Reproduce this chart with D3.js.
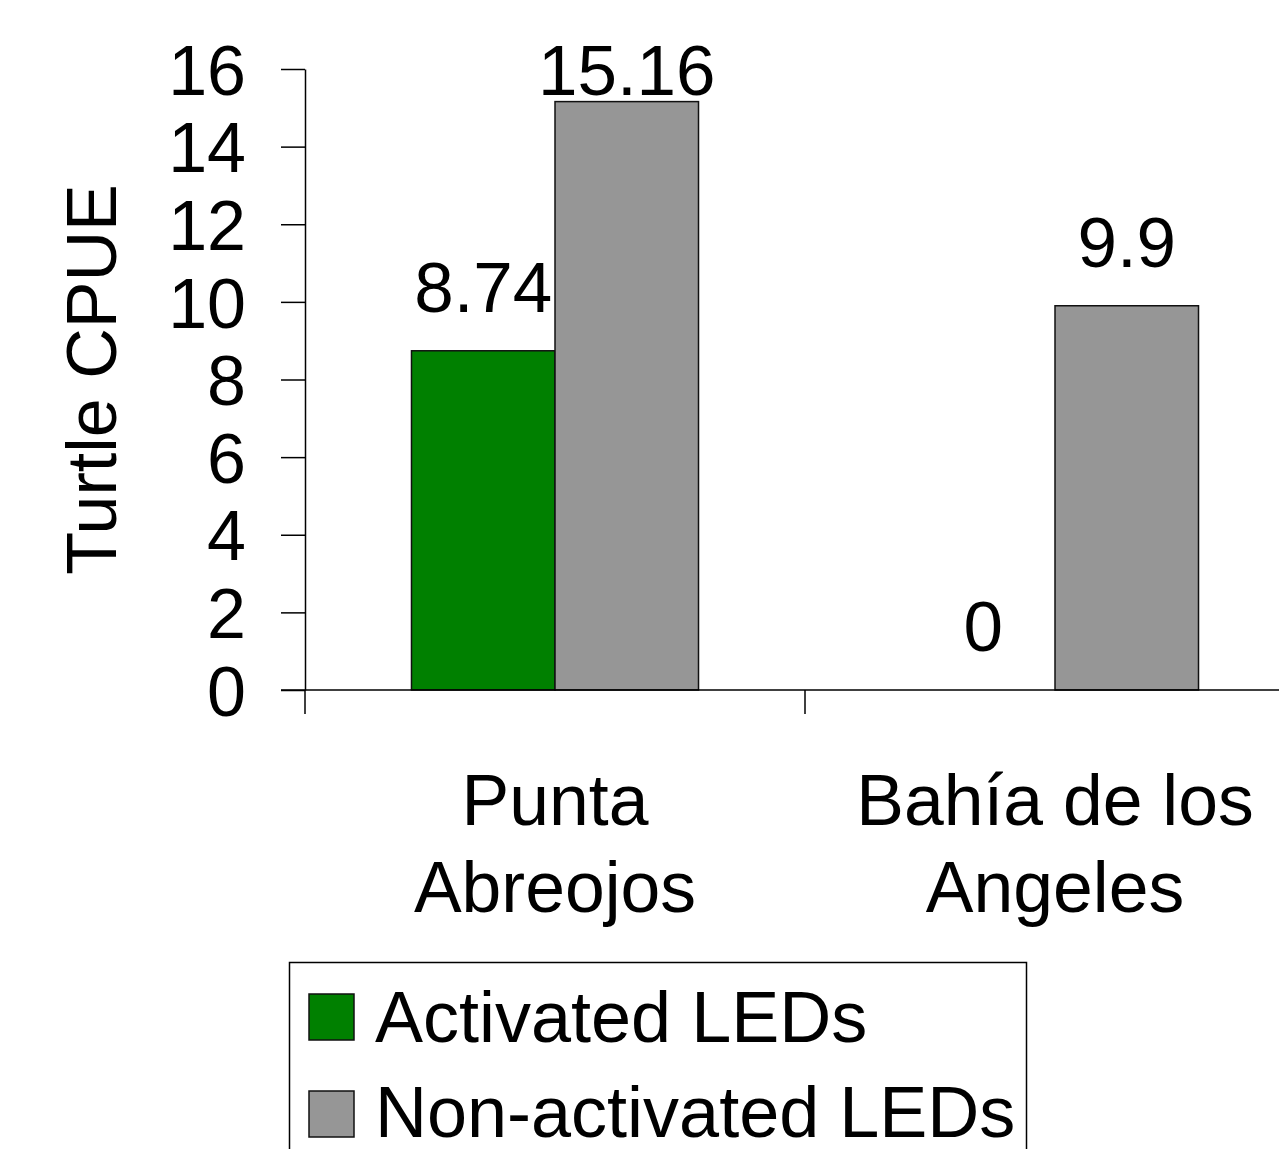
<!DOCTYPE html>
<html>
<head>
<meta charset="utf-8">
<script src="https://cdn.jsdelivr.net/npm/d3@7"></script>
<style>
  body { margin: 0; background: #fff; }
  svg { display: block; }
  text { font-family: "Liberation Sans", Arial, sans-serif; fill: #000; }
</style>
</head>
<body>
<script>
var width = 1279,
    height = 1149;

// data
var categories = ["Punta Abreojos", "Bahía de los Angeles"];
var categoryLines = [["Punta", "Abreojos"], ["Bahía de los", "Angeles"]];
var series = ["Activated LEDs", "Non-activated LEDs"];
var activated = [8.74, 0];
var nonActivated = [15.16, 9.9];
var valueLabels = [["8.74", "15.16"], ["0", "9.9"]];
var yTicks = [0, 2, 4, 6, 8, 10, 12, 14, 16];

var colors = ["#008000", "#969696"];
var fontSize = 70;

var svg = d3.select("body").append("svg")
    .attr("width", width)
    .attr("height", height);

var x = d3.scaleBand()
    .domain(categories)
    .range([305, 1305])
    .padding(0);

var xs = d3.scaleBand()
    .domain(series)
    .range([0, x.bandwidth()])
    .paddingInner(0)
    .paddingOuter(0.742);

var y = d3.scaleLinear()
    .domain([0, 16])
    .range([690, 69]);

var rows = categories.map(function(c, i) {
  return [
    {cat: c, s: series[0], v: activated[i], label: valueLabels[i][0]},
    {cat: c, s: series[1], v: nonActivated[i], label: valueLabels[i][1]}
  ];
});

// bars
var group = svg.selectAll(".group")
    .data(rows)
    .enter().append("g")
    .attr("class", "group")
    .attr("transform", function(d, i) { return "translate(" + x(categories[i]) + ",0)"; });

group.selectAll("rect")
    .data(function(d) { return d; })
    .enter().append("rect")
    .attr("x", function(d) { return xs(d.s); })
    .attr("width", xs.bandwidth())
    .attr("y", function(d) { return y(d.v); })
    .attr("height", function(d) { return y(0) - y(d.v); })
    .style("fill", function(d, i) { return colors[i]; })
    .style("stroke", "#111")
    .style("stroke-width", 1.5);

group.selectAll(".vlabel")
    .data(function(d) { return d; })
    .enter().append("text")
    .attr("class", "vlabel")
    .attr("x", function(d) { return xs(d.s) + xs.bandwidth() / 2; })
    .attr("y", function(d) { return Math.max(y(d.v) - 39, y(16) + 26); })
    .attr("text-anchor", "middle")
    .style("font-size", "71px")
    .text(function(d) { return d.label; });

// y axis
var yAxis = svg.append("g")
    .attr("transform", "translate(305,0)")
    .call(d3.axisLeft(y).tickValues(yTicks).tickSize(24).tickSizeOuter(0).tickPadding(35));
yAxis.selectAll("text")
    .attr("dy", "0.36em")
    .style("font-size", fontSize + "px")
    .style("font-family", "'Liberation Sans', Arial, sans-serif")
    .attr("fill", "#000");
yAxis.selectAll("line, path").attr("stroke", "#000").attr("stroke-width", 1.5);

svg.append("text")
    .attr("transform", "translate(116," + ((y(0) + y(16)) / 2) + ") rotate(-90)")
    .attr("text-anchor", "middle")
    .style("font-size", fontSize + "px")
    .text("Turtle CPUE");

// x axis
svg.append("line")
    .attr("x1", 281).attr("x2", width)
    .attr("y1", y(0)).attr("y2", y(0))
    .attr("stroke", "#000").attr("stroke-width", 1.5);

svg.selectAll(".xtick")
    .data(categories)
    .enter().append("line")
    .attr("class", "xtick")
    .attr("x1", function(d) { return x(d); })
    .attr("x2", function(d) { return x(d); })
    .attr("y1", y(0)).attr("y2", y(0) + 24)
    .attr("stroke", "#000").attr("stroke-width", 1.5);

var catLabel = svg.selectAll(".cat")
    .data(categories)
    .enter().append("text")
    .attr("class", "cat")
    .attr("text-anchor", "middle")
    .style("font-size", "71.5px");

catLabel.selectAll("tspan")
    .data(function(d, i) { return categoryLines[i].map(function(t) { return {t: t, c: d}; }); })
    .enter().append("tspan")
    .attr("x", function(d) { return x(d.c) + x.bandwidth() / 2; })
    .attr("y", function(d, i) { return 825 + i * 87; })
    .text(function(d) { return d.t; });

// legend
var legend = svg.append("g");
legend.append("rect")
    .attr("x", 289.5).attr("y", 962.5)
    .attr("width", 737).attr("height", 260)
    .style("fill", "none")
    .style("stroke", "#000")
    .style("stroke-width", 1.5);

var item = legend.selectAll(".item")
    .data(series)
    .enter().append("g")
    .attr("class", "item")
    .attr("transform", function(d, i) { return "translate(309," + (994 + i * 97) + ")"; });

item.append("rect")
    .attr("width", 45).attr("height", 46)
    .style("fill", function(d, i) { return colors[i]; })
    .style("stroke", "#111")
    .style("stroke-width", 1.5);

item.append("text")
    .attr("x", 66)
    .attr("y", function(d, i) { return 48 - i * 2.5; })
    .style("font-size", "72px")
    .text(function(d) { return d; });
</script>
</body>
</html>
